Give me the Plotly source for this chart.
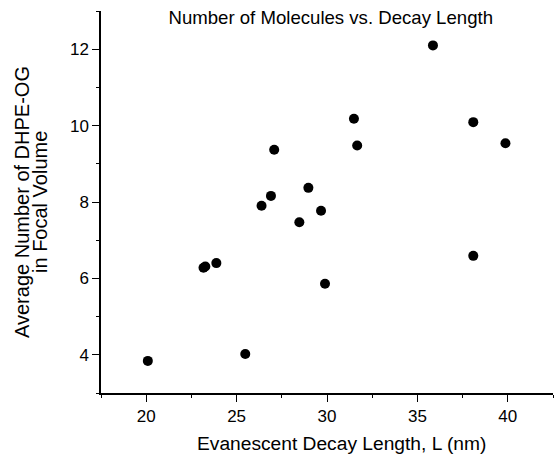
import plotly.graph_objects as go

decay_length = [20.09, 23.17, 23.27, 23.88, 25.48, 26.38, 26.90, 27.08, 28.47, 28.97,
                29.67, 29.89, 31.49, 31.67, 35.86, 38.09, 38.09, 39.87]
avg_molecules = [3.84, 6.28, 6.31, 6.40, 4.02, 7.90, 8.16, 9.37, 7.47, 8.37,
                 7.77, 5.86, 10.18, 9.48, 12.10, 10.09, 6.59, 9.54]

x_ticks = [20, 25, 30, 35, 40]
y_ticks = [4, 6, 8, 10, 12]
y_title_lines = ["Average Number of DHPE-OG", "in Focal Volume"]
x_title = "Evanescent Decay Length, L (nm)"

font = "Liberation Sans, Arial, sans-serif"

fig = go.Figure()
fig.add_trace(go.Scatter(
    x=decay_length, y=avg_molecules, mode="markers",
    marker=dict(color="black", size=10, line=dict(width=0)),
    showlegend=False,
))

fig.update_layout(
    width=554, height=455,
    margin=dict(l=101, r=1, t=11, b=62),
    paper_bgcolor="white", plot_bgcolor="white",
    font=dict(family=font, color="black", size=17),
    title=dict(text="Number of Molecules vs. Decay Length", x=0.597, xanchor="center",
               y=0.962, yanchor="middle", font=dict(size=18.6, family=font, color="black")),
)
fig.update_xaxes(
    range=[17.5, 42.5], tickvals=x_ticks, ticks="outside", ticklen=7, tickwidth=1,
    tickcolor="black", showline=True, linecolor="black", linewidth=1.5,
    showgrid=False, zeroline=False, tickfont=dict(size=17),
    minor=dict(ticks="outside", ticklen=3, tickcolor="black", dtick=2.5, tick0=17.5),
)
fig.update_yaxes(
    range=[3, 13], tickvals=y_ticks, ticks="outside", ticklen=7, tickwidth=1,
    tickcolor="black", showline=True, linecolor="black", linewidth=1.5,
    showgrid=False, zeroline=False, tickfont=dict(size=17),
    minor=dict(ticks="outside", ticklen=3, tickcolor="black", dtick=1, tick0=3),
)
for line, xpos in zip(y_title_lines, [-0.1748, -0.135]):
    fig.add_annotation(text=line, textangle=-90, xref="paper", yref="paper",
                       x=xpos, y=0.5, xanchor="center", yanchor="middle",
                       showarrow=False, font=dict(size=20, family=font, color="black"))
fig.add_annotation(text=x_title, xref="paper", yref="paper", x=0.533, y=-0.1335,
                   xanchor="center", yanchor="middle", showarrow=False,
                   font=dict(size=19.2, family=font, color="black"))

fig.write_html("out.html")
